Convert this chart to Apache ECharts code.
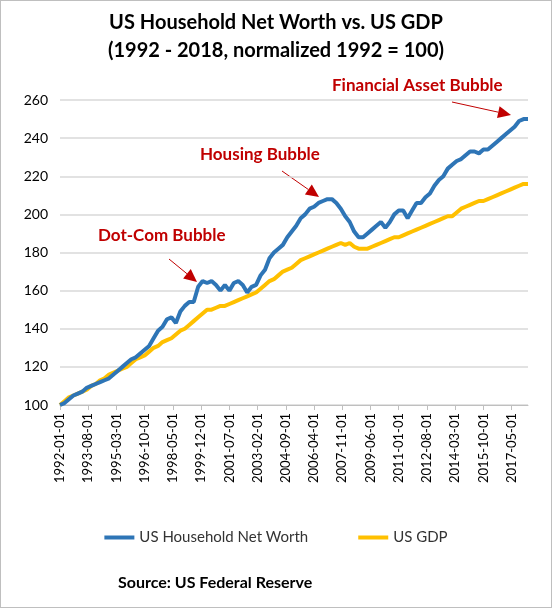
<!DOCTYPE html>
<html>
<head>
<meta charset="utf-8">
<script src="https://cdn.jsdelivr.net/npm/echarts@6/dist/echarts.min.js"></script>
<style>
html,body{margin:0;padding:0;background:#fff;}
#chart{width:550px;height:606px;border:1px solid #bfbfbf;}
</style>
</head>
<body>
<div id="chart"></div>
<script>
// quarterly values, 1992-01 .. 2018-04 (normalized 1992 = 100)
var netWorth = [
  100, 101, 103, 105, 106, 107, 109, 110, 111, 112, 113, 114,
  116, 118, 120, 122, 124, 125, 127, 129, 131, 135, 139, 141,
  145, 146, 143, 149, 152, 154, 154, 162, 165, 164, 165, 163,
  160, 163, 160, 164, 165, 163, 159, 162, 163, 168, 171, 177,
  180, 182, 184, 188, 191, 194, 198, 200, 203, 204, 206, 207,
  208, 208, 206, 203, 199, 196, 191, 188, 188, 190, 192, 194,
  196, 193, 196, 200, 202, 202, 198, 202, 206, 206, 209, 211,
  215, 218, 220, 224, 226, 228, 229, 231, 233, 233, 232, 234,
  234, 236, 238, 240, 242, 244, 246, 249, 250, 250
];
var gdp = [
  100, 102, 104, 105, 106, 107, 108, 110, 111, 113, 114, 116,
  117, 118, 119, 120, 122, 124, 125, 126, 128, 130, 131, 133,
  134, 135, 137, 139, 140, 142, 144, 146, 148, 150, 150, 151,
  152, 152, 153, 154, 155, 156, 157, 158, 159, 161, 163, 165,
  166, 168, 170, 171, 172, 174, 176, 177, 178, 179, 180, 181,
  182, 183, 184, 185, 184, 185, 183, 182, 182, 182, 183, 184,
  185, 186, 187, 188, 188, 189, 190, 191, 192, 193, 194, 195,
  196, 197, 198, 199, 199, 201, 203, 204, 205, 206, 207, 207,
  208, 209, 210, 211, 212, 213, 214, 215, 216, 216
];
var yTicks = [100, 120, 140, 160, 180, 200, 220, 240, 260];

// monthly category axis so labels fall every 19 months like the original
var months = [];
for (var y = 1992; y <= 2018; y++) {
  for (var m = 1; m <= 12; m++) {
    if (y === 2018 && m > 4) break;
    months.push(y + '-' + (m < 10 ? '0' + m : m) + '-01');
  }
}
function quarterly(vals) {
  return vals.map(function (v, i) { return [months[i * 3], v]; });
}

var chart = echarts.init(document.getElementById('chart'));
var red = '#c00000';
var font = 'Lato, "Open Sans", sans-serif';
function arrow(x1, y1, x2, y2) {
  var a = Math.atan2(y2 - y1, x2 - x1), L = 13, W = 6;
  var bx = x2 - L * Math.cos(a), by = y2 - L * Math.sin(a);
  var px = -Math.sin(a) * W, py = Math.cos(a) * W;
  return [
    { type: 'line', shape: { x1: x1, y1: y1, x2: bx, y2: by }, style: { stroke: red, lineWidth: 1 } },
    { type: 'polygon', shape: { points: [[x2, y2], [bx + px, by + py], [bx - px, by - py]] }, style: { fill: red } }
  ];
}
var graphics = [
  { type: 'text', left: 'center', top: 8, style: { text: 'US Household Net Worth vs. US GDP\n(1992 - 2018, normalized 1992 = 100)', font: 'bold 20px ' + font, fill: '#000', textAlign: 'center', lineHeight: 28 } },
  { type: 'text', left: 97, top: 226, style: { text: 'Dot-Com Bubble', font: 'bold 17px ' + font, fill: red } },
  { type: 'text', left: 199, top: 145, style: { text: 'Housing Bubble', font: 'bold 17px ' + font, fill: red } },
  { type: 'text', left: 331, top: 76, style: { text: 'Financial Asset Bubble', font: 'bold 17px ' + font, fill: red } },
  { type: 'text', left: 117, top: 574, style: { text: 'Source: US Federal Reserve', font: 'bold 16px ' + font, fill: '#000' } }
].concat(arrow(168, 258, 196, 281), arrow(281, 170, 318, 196), arrow(451, 101, 510, 114));

chart.setOption({
  animation: false,
  textStyle: { fontFamily: font },
  graphic: graphics,
  legend: {
    bottom: 57, left: 'center', itemGap: 50, itemWidth: 30, itemHeight: 4,
    icon: 'rect',
    textStyle: { fontSize: 15, color: '#333' },
    data: ['US Household Net Worth', 'US GDP']
  },
  grid: { left: 59, right: 23, top: 99, bottom: 202 },
  xAxis: {
    type: 'category', data: months, boundaryGap: false,
    axisLine: { lineStyle: { color: '#bfbfbf' } },
    axisTick: { interval: 18, alignWithLabel: true, lineStyle: { color: '#bfbfbf' } },
    axisLabel: { interval: 18, rotate: 90, color: '#000', fontSize: 13, margin: 8 }
  },
  yAxis: {
    type: 'value', min: yTicks[0], max: yTicks[yTicks.length - 1], interval: 20,
    axisLabel: { color: '#000', fontSize: 14, margin: 12 },
    splitLine: { lineStyle: { color: '#d9d9d9', width: 1.5 } },
    axisLine: { show: false }, axisTick: { show: false }
  },
  series: [
    { name: 'US GDP', type: 'line', data: quarterly(gdp), showSymbol: false, z: 2,
      lineStyle: { width: 4, color: '#ffc000' }, itemStyle: { color: '#ffc000' } },
    { name: 'US Household Net Worth', type: 'line', data: quarterly(netWorth), showSymbol: false, z: 3,
      lineStyle: { width: 4, color: '#2e75b6' }, itemStyle: { color: '#2e75b6' } }
  ]
});
</script>
</body>
</html>
